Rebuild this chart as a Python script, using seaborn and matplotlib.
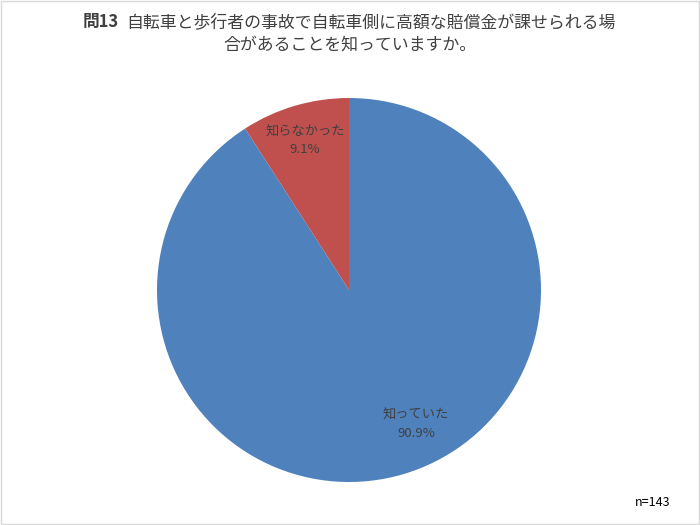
import numpy as np
import seaborn as sns
import matplotlib.pyplot as plt
from matplotlib.patches import Rectangle

# Data
categories = ["知っていた", "知らなかった"]
shares = [90.9, 9.1]
colors = ["#4F81BD", "#C0504D"]
n_total = 143
q_no = "問13"
title_l1 = "自転車と歩行者の事故で自転車側に高額な賠償金が課せられる場"
title_l2 = "合があることを知っていますか。"

sns.set_theme(style="white")
plt.rcParams["font.family"] = ["Noto Sans CJK JP", "DejaVu Sans"]

fig = plt.figure(figsize=(7, 5.25), dpi=100)
ax = fig.add_axes([157 / 700, 43 / 525, 384 / 700, 384 / 525])

wedges, _ = ax.pie(shares, colors=colors, startangle=90, counterclock=False,
                   wedgeprops=dict(linewidth=0))
ax.set_xlim(-1, 1)
ax.set_ylim(-1, 1)
ax.set_aspect("equal")
ax.axis("off")

# Labels placed like Excel "best fit"
label_spots = [(-63.5, 0.78), (106.4, 0.81)]
for cat, val, (ang, r) in zip(categories, shares, label_spots):
    x = r * np.cos(np.radians(ang))
    y = r * np.sin(np.radians(ang))
    ax.text(x, y, f"{cat}\n{val:.1f}%", ha="center", va="center",
            fontsize=9.5, color="#404040", linespacing=1.5)

# Title: bold question number + normal text
y1 = 1 - 22 / 525
t_no = fig.text(83 / 700, y1, q_no, ha="left", va="center", fontsize=12,
                color="#404040", fontweight="bold")
fig.canvas.draw()
bb = t_no.get_window_extent()
fig.text((bb.x1 + 7) / 700, y1, title_l1, ha="left", va="center",
         fontsize=12.2, color="#404040")
fig.text(0.5, 1 - 45 / 525, title_l2, ha="center", va="center",
         fontsize=12.2, color="#404040")

fig.text(653 / 700, 1 - 503 / 525, f"n={n_total}", ha="center", va="center",
         fontsize=9, color="black")

# Chart border
fig.patches.append(Rectangle((0.001, 0.001), 0.997, 0.997, transform=fig.transFigure,
                             fill=False, edgecolor="#D9D9D9", linewidth=1))

fig.savefig("out.png", dpi=100)
